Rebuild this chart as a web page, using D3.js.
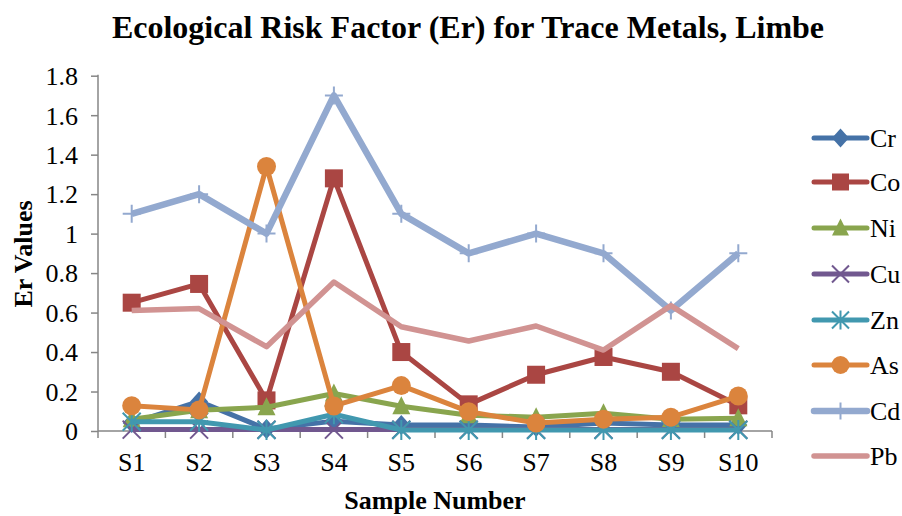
<!DOCTYPE html>
<html><head><meta charset="utf-8">
<script src="https://cdn.jsdelivr.net/npm/d3@7"></script>
<style>body{margin:0;background:#fff}svg{display:block}text{font-family:"Liberation Serif","Times New Roman",serif}</style>
</head><body><svg id="c" width="902" height="516"></svg>
<script>
const categories = ["S1","S2","S3","S4","S5","S6","S7","S8","S9","S10"];
const seriesNames = ["Cr","Co","Ni","Cu","Zn","As","Cd","Pb"];
const Cr = [0.04,0.15,0.01,0.05,0.03,0.03,0.02,0.04,0.03,0.03];
const Co = [0.65,0.745,0.155,1.28,0.40,0.135,0.285,0.375,0.30,0.13];
const Ni = [0.06,0.105,0.12,0.19,0.125,0.08,0.07,0.09,0.06,0.065];
const Cu = [0.007,0.007,0.007,0.007,0.007,0.007,0.007,0.007,0.007,0.007];
const Zn = [0.047,0.047,0.005,0.085,0.005,0.005,0.005,0.005,0.005,0.005];
const As = [0.128,0.107,1.34,0.127,0.23,0.098,0.04,0.06,0.07,0.177];
const Cd = [1.1,1.2,1.0,1.7,1.1,0.9,1.0,0.9,0.61,0.9];
const Pb = [0.61,0.62,0.427,0.755,0.528,0.456,0.532,0.41,0.635,0.417];
const yTicks = [0,0.2,0.4,0.6,0.8,1,1.2,1.4,1.6,1.8];
const seriesData = [Cr,Co,Ni,Cu,Zn,As,Cd,Pb];
const colors = ["#4572A7","#AA4643","#89A54E","#71588F","#4198AF","#DB843D","#93A9CF","#D19392"];
const markers = ["diamond","square","triangle","x","asterisk","circle","plus","none"];
const widths = [5,5,5,5,5,5,6.5,5.5];

const svg = d3.select("#c");
const L=98, R=772, T=75.7, B=431;
const xb = d3.scaleBand().domain(categories).range([L,R]);
const x = c => xb(c)+xb.bandwidth()/2;
const y = d3.scaleLinear().domain([0,1.8]).range([B,T]);
const axisColor="#868686";

// title
svg.append("text").attr("x",468).attr("y",38).attr("text-anchor","middle")
  .attr("font-size",32).attr("font-weight","bold").text("Ecological Risk Factor (Er) for Trace Metals, Limbe");

// y axis
const ya = svg.append("g").attr("transform",`translate(${L},0)`)
  .call(d3.axisLeft(y).tickValues(yTicks).tickFormat(d=>d3.format("")(d)).tickSize(7).tickPadding(13));
ya.select(".domain").remove();
ya.selectAll("line").attr("stroke",axisColor).attr("stroke-width",1.5);
ya.selectAll("text").attr("font-size",26).attr("font-family","Liberation Serif").attr("fill","#000").attr("dy","0.34em");
svg.append("line").attr("x1",L).attr("x2",L).attr("y1",T-1).attr("y2",B).attr("stroke",axisColor).attr("stroke-width",1.5);

// x axis
const xa = svg.append("g").attr("transform",`translate(0,${B})`)
  .call(d3.axisBottom(xb).tickSize(0).tickPadding(22));
xa.select(".domain").remove();
xa.selectAll("text").attr("font-size",26).attr("font-family","Liberation Serif").attr("fill","#000");
svg.append("line").attr("x1",L).attr("x2",R).attr("y1",B).attr("y2",B).attr("stroke",axisColor).attr("stroke-width",1.5);
const bounds = categories.map(c=>xb(c)).concat([R]);
svg.selectAll(".xt").data(bounds).enter().append("line")
  .attr("x1",d=>d).attr("x2",d=>d).attr("y1",B).attr("y2",B+7).attr("stroke",axisColor).attr("stroke-width",1.5);

// axis titles
svg.append("text").attr("x",435).attr("y",509).attr("text-anchor","middle")
  .attr("font-size",26).attr("font-weight","bold").text("Sample Number");
svg.append("text").attr("transform","translate(32,254) rotate(-90)").attr("text-anchor","middle")
  .attr("font-size",26).attr("font-weight","bold").text("Er Values");

function drawMarker(g, type, color, cx, cy, s){
  const h=s/2;
  if(type==="diamond") g.append("path").attr("d",`M${cx},${cy-h-1}L${cx+h},${cy}L${cx},${cy+h+1}L${cx-h},${cy}Z`).attr("fill",color);
  else if(type==="square") g.append("rect").attr("x",cx-h).attr("y",cy-h).attr("width",s).attr("height",s).attr("fill",color);
  else if(type==="triangle") g.append("path").attr("d",`M${cx},${cy-h-1}L${cx+h},${cy+h-1}L${cx-h},${cy+h-1}Z`).attr("fill",color);
  else if(type==="circle") g.append("circle").attr("cx",cx).attr("cy",cy).attr("r",h+0.5).attr("fill",color);
  else if(type==="x") g.append("path").attr("d",`M${cx-h},${cy-h}L${cx+h},${cy+h}M${cx-h},${cy+h}L${cx+h},${cy-h}`).attr("stroke",color).attr("stroke-width",2);
  else if(type==="asterisk") g.append("path").attr("d",`M${cx-h},${cy-h}L${cx+h},${cy+h}M${cx-h},${cy+h}L${cx+h},${cy-h}M${cx},${cy-h-1}L${cx},${cy+h+1}`).attr("stroke",color).attr("stroke-width",2);
  else if(type==="plus") g.append("path").attr("d",`M${cx-h},${cy}L${cx+h},${cy}M${cx},${cy-h}L${cx},${cy+h}`).attr("stroke",color).attr("stroke-width",2);
}

const line = d3.line().x((d,i)=>x(categories[i])).y(d=>y(d));
seriesData.forEach((vals,k)=>{
  const g = svg.append("g");
  g.append("path").attr("d",line(vals)).attr("fill","none").attr("stroke",colors[k])
    .attr("stroke-width",widths[k]).attr("stroke-linejoin","round").attr("stroke-linecap","butt");
  vals.forEach((v,i)=>drawMarker(g,markers[k],colors[k],x(categories[i]),y(v),18));
});

// legend
const ly = [138,182,228,274,320,365,411,456];
seriesNames.forEach((n,k)=>{
  const g = svg.append("g");
  g.append("line").attr("x1",814).attr("x2",867).attr("y1",ly[k]).attr("y2",ly[k])
    .attr("stroke",colors[k]).attr("stroke-width",widths[k]).attr("stroke-linecap","round");
  drawMarker(g,markers[k],colors[k],840.5,ly[k],17);
  g.append("text").attr("x",870).attr("y",ly[k]).attr("dy","0.34em").attr("font-size",26).text(n);
});
</script></body></html>
